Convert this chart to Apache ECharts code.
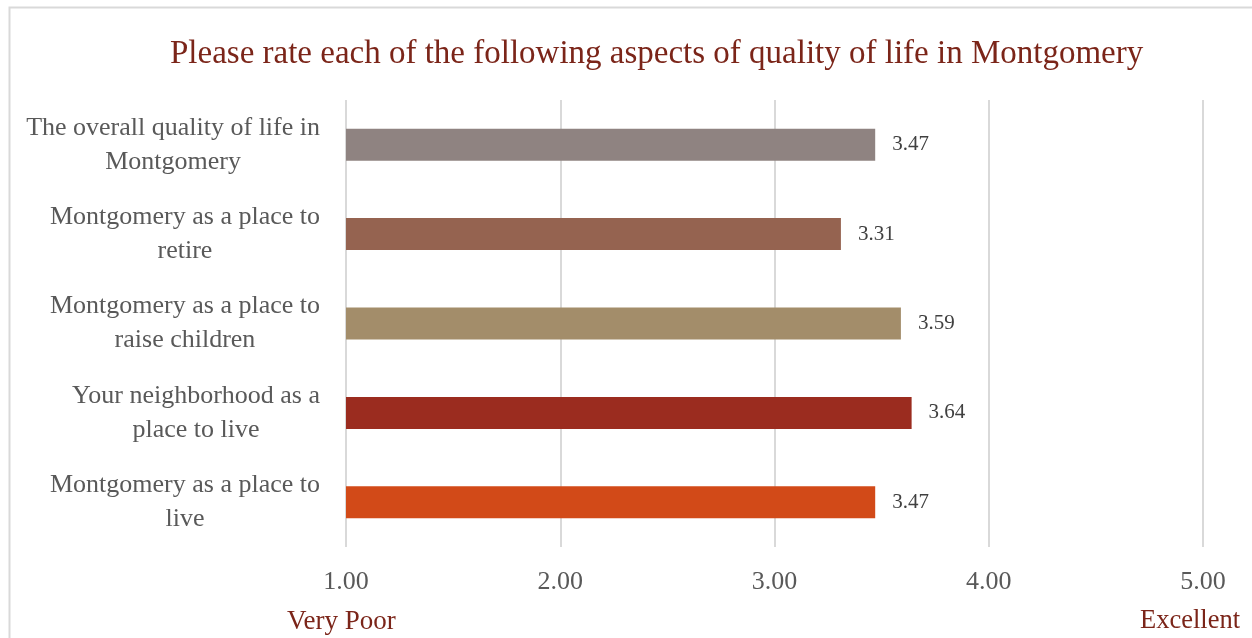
<!DOCTYPE html>
<html>
<head>
<meta charset="utf-8">
<script src="https://cdn.jsdelivr.net/npm/echarts@6/dist/echarts.min.js"></script>
<style>
  html, body { margin: 0; padding: 0; background: #fff; }
  #chart { width: 1252px; height: 638px; }
</style>
</head>
<body>
<div id="chart"></div>
<script>
// Survey aspects, listed top to bottom
const categories = [
  'The overall quality of life in\nMontgomery',
  'Montgomery as a place to\nretire',
  'Montgomery as a place to\nraise children',
  'Your neighborhood as a\nplace to live',
  'Montgomery as a place to\nlive'
];
// Mean rating on a 1 (Very Poor) to 5 (Excellent) scale
const ratings = [3.47, 3.31, 3.59, 3.64, 3.47];
const barColors = ['#8f8381', '#956350', '#a38d6a', '#9b2c1f', '#d24a18'];
const tickValues = [1, 2, 3, 4, 5];
const scaleEnds = ['Very Poor', 'Excellent'];

const serif = '"Liberation Serif", "DejaVu Serif", serif';
const chart = echarts.init(document.getElementById('chart'));

chart.setOption({
  backgroundColor: '#ffffff',
  animation: false,
  title: {
    text: 'Please rate each of the following aspects of quality of life in Montgomery',
    left: 170,
    top: 38,
    padding: 0,
    textStyle: { fontFamily: serif, fontSize: 33, fontWeight: 'normal', color: '#7b2519' }
  },
  grid: { left: 346, right: 49, top: 100, bottom: 91, containLabel: false },
  xAxis: {
    type: 'value',
    min: tickValues[0],
    max: tickValues[tickValues.length - 1],
    interval: 1,
    axisLine: { show: false },
    axisTick: { show: false },
    splitLine: { lineStyle: { color: '#d9d9d9', width: 2 } },
    axisLabel: {
      margin: 22,
      fontFamily: serif, fontSize: 26, color: '#595959',
      formatter: v => v.toFixed(2)
    }
  },
  yAxis: {
    type: 'category',
    inverse: true,
    data: categories,
    axisLine: { show: false },
    axisTick: { show: false },
    axisLabel: {
      margin: 26,
      align: 'right',
      fontFamily: serif, fontSize: 26, lineHeight: 34, color: '#595959',
      // each line centred inside the right-aligned block
      formatter: v => v.split('\n').map(s => '{c|' + s + '}').join('\n'),
      rich: {
        c: { align: 'center', fontFamily: serif, fontSize: 26, lineHeight: 34, color: '#595959' }
      }
    }
  },
  series: [{
    type: 'bar',
    barWidth: 32,
    data: ratings.map((v, i) => ({ value: v, itemStyle: { color: barColors[i] } })),
    label: {
      show: true,
      position: 'right',
      distance: 17,
      fontFamily: serif, fontSize: 21, color: '#404040',
      formatter: p => p.value.toFixed(2)
    }
  }],
  graphic: [
    {
      type: 'rect', left: 7, top: 5, silent: true,
      shape: { width: 1260, height: 650 },
      style: { fill: 'none', stroke: '#d9d9d9', lineWidth: 2 }
    },
    {
      type: 'text', left: 287, top: 608,
      style: { text: scaleEnds[0], font: '27px ' + serif, fill: '#7b2519' }
    },
    {
      type: 'text', right: 12, top: 608,
      style: { text: scaleEnds[1], font: '26.5px ' + serif, fill: '#7b2519' }
    }
  ]
});
</script>
</body>
</html>
